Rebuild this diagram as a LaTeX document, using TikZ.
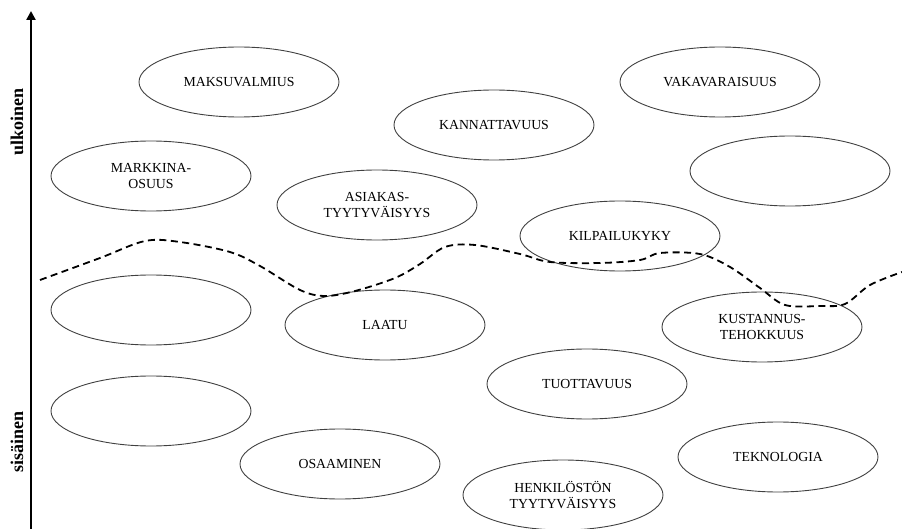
\documentclass[tikz,border=0pt]{standalone}
\usepackage{fontspec}
\setmainfont{Liberation Serif}
\usetikzlibrary{shapes.geometric,arrows.meta}
\begin{document}
\begin{tikzpicture}[x=1pt,y=-1pt,
  oval/.style={draw=black!75, line width=0.9pt, ellipse, minimum width=200pt,
    minimum height=70pt, inner sep=0pt, align=center,
    font=\fontsize{13.8}{15.8}\selectfont},
  axislabel/.style={rotate=90, inner sep=0pt, font=\fontsize{18}{21}\selectfont\bfseries},
  boundary/.style={line width=1.8pt, dash pattern=on 7pt off 4.5pt}]
\useasboundingbox (0,0) rectangle (902,529);

% vertical axis: internal (bottom) to external (top)
\coordinate (axbot) at (31,529);
\coordinate (axtop) at (31,11);
\draw[line width=2.4pt, -{Triangle[width=9pt,length=9pt]}] (axbot) -- (axtop);
\node[axislabel] (ext) at (17,122) {ulkoinen};
\node[axislabel] (int) at (17,442) {sisäinen};

% success factors
\node[oval] (maksu)  at (239,82)  {MAKSUVALMIUS};
\node[oval] (vaka)   at (720,82)  {VAKAVARAISUUS};
\node[oval] (kanna)  at (494,125) {KANNATTAVUUS};
\node[oval] (markk)  at (151,176) {MARKKINA-\\OSUUS};
\node[oval] (tyhja1) at (790,171) {};
\node[oval] (asiak)  at (377,205) {ASIAKAS-\\TYYTYVÄISYYS};
\node[oval] (kilpa)  at (620,236) {KILPAILUKYKY};
\node[oval] (tyhja2) at (151,310) {};
\node[oval] (laatu)  at (385,325) {LAATU};
\node[oval] (kusta)  at (762,327) {KUSTANNUS-\\TEHOKKUUS};
\node[oval] (tuott)  at (587,384) {TUOTTAVUUS};
\node[oval] (tyhja3) at (151,411) {};
\node[oval] (osaam)  at (340,464) {OSAAMINEN};
\node[oval] (tekno)  at (778,457) {TEKNOLOGIA};
\node[oval] (henki)  at (563,495) {HENKILÖSTÖN\\TYYTYVÄISYYS};

% boundary between external and internal factors
\draw[boundary] plot[smooth, tension=0.55] coordinates {
  (40,280) (100,258) (145,241) (180,242) (230,252) (260,266) (300,290)
  (325,296) (355,291) (395,278) (420,264) (445,247) (475,245) (520,254)
  (550,262) (600,263) (640,260) (660,253) (700,254) (730,267) (760,288)
  (785,305) (820,306) (845,304) (870,285) (902,272)};
\end{tikzpicture}
\end{document}
